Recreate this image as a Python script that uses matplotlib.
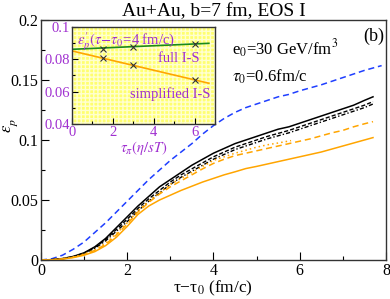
import matplotlib
matplotlib.use("Agg")
import matplotlib.pyplot as plt
from matplotlib.ticker import MultipleLocator
from matplotlib.patches import Rectangle

plt.rcParams['font.family'] = ['Liberation Serif', 'DejaVu Serif']
plt.rcParams['mathtext.fontset'] = 'stix'

# ---- main panel data ----
t_blue = [0, 0.25, 0.5, 0.75, 1, 1.25, 1.5, 1.75, 2, 2.25, 2.5, 2.75, 3, 3.25, 3.5, 3.75, 4, 4.25,
          4.5, 4.75, 5, 5.25, 5.5, 5.75, 6, 6.25, 6.5, 6.75, 7, 7.25, 7.5, 7.75, 7.9]
ep_blue = [0, 0.001, 0.004, 0.009, 0.015, 0.023, 0.031, 0.040, 0.049, 0.058, 0.067, 0.075, 0.083,
           0.090, 0.097, 0.105, 0.112, 0.118, 0.123, 0.127, 0.130, 0.133, 0.136, 0.138, 0.141,
           0.1435, 0.146, 0.149, 0.152, 0.155, 0.158, 0.1605, 0.162]

t = [0, 0.25, 0.5, 0.75, 1, 1.25, 1.5, 1.75, 2, 2.25, 2.5, 2.75, 3, 3.25, 3.5, 3.75, 4, 4.25,
     4.5, 4.75, 5, 5.25, 5.5, 5.75, 6, 6.25, 6.5, 6.75, 7, 7.25, 7.5, 7.7]
ep_black_solid = [0, 0.0003, 0.0012, 0.003, 0.006, 0.011, 0.018, 0.027, 0.036, 0.045, 0.053, 0.061,
                  0.067, 0.073, 0.079, 0.084, 0.089, 0.093, 0.097, 0.100, 0.103, 0.106, 0.109, 0.111,
                  0.114, 0.117, 0.120, 0.123, 0.126, 0.129, 0.133, 0.136]
ep_black_dash = [0, 0.0003, 0.0011, 0.0028, 0.0057, 0.0105, 0.017, 0.0255, 0.034, 0.043, 0.051, 0.058,
                 0.065, 0.071, 0.076, 0.081, 0.086, 0.090, 0.094, 0.097, 0.100, 0.103, 0.1055, 0.108,
                 0.111, 0.114, 0.117, 0.120, 0.123, 0.126, 0.129, 0.132]
ep_black_dashdot = [0, 0.0003, 0.001, 0.0026, 0.0053, 0.0098, 0.016, 0.024, 0.032, 0.041, 0.049, 0.056,
                    0.063, 0.069, 0.074, 0.079, 0.084, 0.088, 0.092, 0.095, 0.098, 0.101, 0.1035, 0.106,
                    0.109, 0.112, 0.115, 0.118, 0.121, 0.124, 0.127, 0.130]
ep_orange_dash = [0, 0.0002, 0.0009, 0.0023, 0.0045, 0.008, 0.013, 0.021, 0.030, 0.040, 0.048, 0.055,
                  0.061, 0.066, 0.071, 0.076, 0.0805, 0.084, 0.087, 0.089, 0.091, 0.093, 0.095, 0.097,
                  0.099, 0.101, 0.1035, 0.106, 0.108, 0.111, 0.1135, 0.1153]
ep_orange_solid = [0, 0.0002, 0.0008, 0.002, 0.004, 0.007, 0.012, 0.019, 0.028, 0.038, 0.045, 0.050,
                   0.054, 0.058, 0.0615, 0.065, 0.068, 0.071, 0.0735, 0.0762, 0.078, 0.080, 0.082, 0.084,
                   0.086, 0.088, 0.090, 0.0925, 0.095, 0.0975, 0.100, 0.102]

t_dot = [0, 0.25, 0.5, 0.75, 1, 1.25, 1.5, 1.75, 2, 2.25, 2.5, 2.75, 3, 3.25, 3.5, 3.75, 4, 4.25,
         4.5, 4.75, 5, 5.25, 5.5, 5.8]
ep_orange_dot = [0, 0.0002, 0.001, 0.0025, 0.005, 0.0085, 0.014, 0.022, 0.031, 0.041, 0.049, 0.056,
                 0.063, 0.068, 0.073, 0.078, 0.083, 0.086, 0.089, 0.0915, 0.094, 0.096, 0.0975, 0.0995]

# ---- inset data ----
tau_pi = [1.5, 3, 6]
ep_full = [0.0864, 0.0874, 0.0893]
ep_simpl = [0.0810, 0.0765, 0.0672]
fit_x = [0, 6.7]
fit_full = [0.0862, 0.0899]
fit_simpl = [0.0852, 0.0652]

purple = '#a030d0'
orange = '#ffa500'

fig = plt.figure(figsize=(3.9, 2.99), dpi=100)
ax = fig.add_axes([0.105, 0.1304, 0.8846, 0.8027])

ax.plot(t_blue, ep_blue, color='#1f3fff', ls=(0, (4, 2.5)), lw=1.1)
ax.plot(t, ep_black_solid, color='black', lw=1.1)
ax.plot(t, ep_black_dash, color='black', ls=(0, (3, 1.5)), lw=1.0)
ax.plot(t, ep_black_dashdot, color='black', ls=(0, (3, 1.5, 1, 1.5)), lw=1.0)
ax.plot(t_dot, ep_orange_dot, color=orange, ls=(0, (1, 2)), lw=1.1)
ax.plot(t, ep_orange_dash, color=orange, ls=(0, (4, 2.5)), lw=1.1)
ax.plot(t, ep_orange_solid, color=orange, lw=1.1)

ax.set_xlim(0, 8)
ax.set_ylim(0, 0.2)
ax.xaxis.set_major_locator(MultipleLocator(2))
ax.xaxis.set_minor_locator(MultipleLocator(1))
ax.yaxis.set_major_locator(MultipleLocator(0.05))
ax.yaxis.set_minor_locator(MultipleLocator(0.025))
ax.yaxis.set_major_formatter(plt.FuncFormatter(lambda v, p: ('%g' % round(v, 3))))
ax.tick_params(which='both', direction='in', top=False, right=False, labelsize=11.5, width=0.8, pad=2)
ax.tick_params(which='major', length=6)
ax.tick_params(which='minor', length=3)
for s in ax.spines.values():
    s.set_linewidth(1.0)
    s.set_color('#333333')

ax.set_xlabel('τ−τ$_0$ (fm/c)', fontsize=12.5, labelpad=0)
ax.set_ylabel(r"$\varepsilon_p'$", fontsize=12)
ax.yaxis.set_label_coords(-0.06, 0.56)
ax.set_title('Au+Au, b=7 fm, EOS I', fontsize=14, pad=2)

ax.text(0.995, 0.93, '(b)', transform=ax.transAxes, ha='right', va='center', fontsize=13)
ax.text(0.555, 0.88, r'e$_0$=30 GeV/fm$^3$', transform=ax.transAxes, ha='left', va='center', fontsize=12)
ax.text(0.555, 0.765, r'$\tau_0$=0.6fm/c', transform=ax.transAxes, ha='left', va='center', fontsize=12)

# ---- inset ----
ins = fig.add_axes([0.1846, 0.5853, 0.3667, 0.3244])
ins.set_facecolor('#ffff70')
ins.add_patch(Rectangle((0, 0), 1, 1, transform=ins.transAxes, facecolor='none',
                        edgecolor='#ffffd0', hatch='++++', lw=0, zorder=0))
ins.plot(fit_x, fit_full, color='#1a8a1a', lw=1.2, zorder=2)
ins.plot(fit_x, fit_simpl, color=orange, lw=1.2, zorder=2)
ins.plot(tau_pi, ep_full, ls='none', marker='x', ms=4, mew=0.8, color='#333333', zorder=3)
ins.plot(tau_pi, ep_simpl, ls='none', marker='x', ms=4, mew=0.8, color='#333333', zorder=3)
ins.set_xlim(0, 7)
ins.set_ylim(0.04, 0.1)
ins.xaxis.set_major_locator(MultipleLocator(2))
ins.xaxis.set_minor_locator(MultipleLocator(1))
ins.yaxis.set_major_locator(MultipleLocator(0.02))
ins.yaxis.set_minor_locator(MultipleLocator(0.01))
ins.yaxis.set_major_formatter(plt.FuncFormatter(lambda v, p: ('%g' % round(v, 3))))
ins.tick_params(which='both', direction='in', top=False, right=False, labelsize=10.5,
                labelcolor=purple, width=0.8, pad=1.5)
ins.tick_params(which='major', length=4)
ins.tick_params(which='minor', length=2)
for s in ins.spines.values():
    s.set_linewidth(1.0)
    s.set_color('#333333')
ins.set_xlabel(r'$\tau_\pi(\eta/sT)$', fontsize=10.5, color=purple, labelpad=0)
ins.text(0.035, 0.97, r"$\varepsilon_p'(\tau\!-\!\tau_0$=4 fm/c)", transform=ins.transAxes,
         ha='left', va='top', fontsize=10.5, color=purple)
ins.text(0.895, 0.68, 'full I-S', transform=ins.transAxes, ha='right', va='center',
         fontsize=10.5, color=purple)
ins.text(0.965, 0.31, 'simplified I-S', transform=ins.transAxes, ha='right', va='center',
         fontsize=10.5, color=purple)

fig.savefig('out.png', dpi=100)
